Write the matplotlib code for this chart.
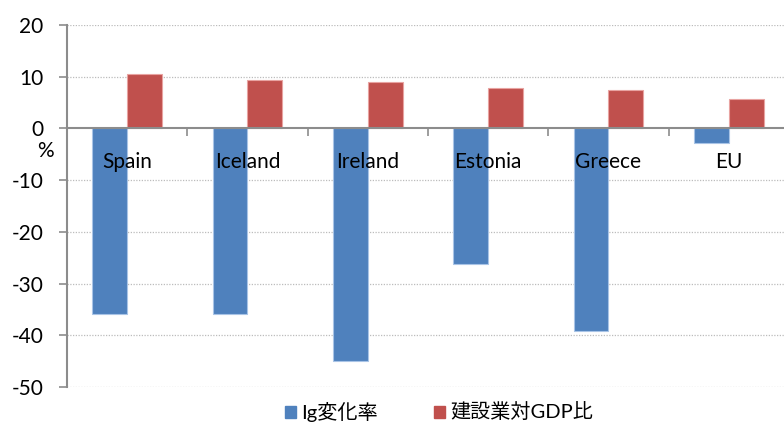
import matplotlib.pyplot as plt
import numpy as np
from matplotlib.patches import Patch

countries = ['Spain', 'Iceland', 'Ireland', 'Estonia', 'Greece', 'EU']
ig_change = [-35.8, -35.8, -45.0, -26.2, -39.2, -2.9]
constr_gdp = [10.6, 9.4, 8.9, 7.9, 7.4, 5.6]
yticks = [20, 10, 0, -10, -20, -30, -40, -50]
legend_labels = ['Ig変化率', '建設業対GDP比']

plt.rcParams['font.family'] = ['Lato', 'Noto Sans CJK JP', 'DejaVu Sans']

blue = '#4F81BD'
red = '#C0504D'
gray = '#8c8c8c'

fig = plt.figure(figsize=(7.84, 4.24), dpi=100)
ax = fig.add_axes([67/784, 37/424, 722/784, 362/424])
ax.set_axisbelow(False)

x = np.arange(len(countries))
w = 0.29
ax.bar(x - w/2, ig_change, w, color=blue, edgecolor='#a9c4e6', linewidth=0.8, zorder=1)
ax.bar(x + w/2, constr_gdp, w, color=red, edgecolor='#e8a3a1', linewidth=0.8, zorder=1)

ax.set_xlim(-0.5, len(countries) - 0.5)
ax.set_ylim(-50, 20)
ax.set_yticks(yticks)
ax.set_yticklabels([str(v) for v in yticks], fontsize=15)

# dotted grid except the zero line
for v in yticks:
    if v != 0:
        ax.axhline(v, color='#bcbcbc', linestyle=(0, (1, 1.2)), linewidth=0.9, zorder=0.5)

for s in ['top', 'right']:
    ax.spines[s].set_visible(False)
ax.spines['left'].set_color(gray)
ax.spines['left'].set_linewidth(1.5)
ax.spines['bottom'].set_position(('data', 0))
ax.spines['bottom'].set_color(gray)
ax.spines['bottom'].set_linewidth(1.5)
ax.spines['bottom'].set_zorder(3)

ax.tick_params(axis='y', direction='out', length=6, width=1.2, color=gray, pad=11)
ax.set_xticks(np.arange(0.5, len(countries) - 0.5))
ax.set_xticklabels([])
ax.tick_params(axis='x', which='major', direction='out', length=6, width=1.2, color=gray)
ax.set_xticks(x, countries, minor=True)
ax.tick_params(axis='x', which='minor', length=0, pad=17, labelsize=15)

fig.text(45/784, 1 - 151/424, '%', fontsize=15, ha='center', va='center')

handles = [Patch(facecolor=blue, edgecolor=blue), Patch(facecolor=red, edgecolor=red)]
fig.legend(handles, legend_labels, loc='center', bbox_to_anchor=(0.56, 1 - 412/424),
           ncol=2, frameon=False, fontsize=14.5, handlelength=0.55, handleheight=0.55,
           handletextpad=0.25, columnspacing=2.8)

fig.savefig('out.png', dpi=100)
